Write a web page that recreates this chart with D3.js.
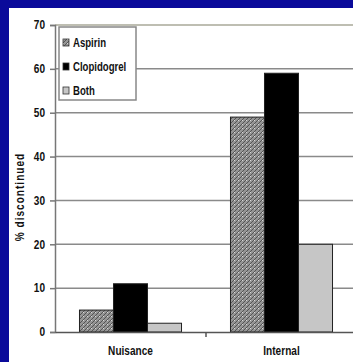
<!DOCTYPE html>
<html>
<head>
<meta charset="utf-8">
<script src="https://cdn.jsdelivr.net/npm/d3@7"></script>
<style>
  html, body { margin: 0; padding: 0; background: #0a0a9a; }
  svg { display: block; }
  text { font-family: "Liberation Sans", Arial, sans-serif; font-weight: bold; fill: #111; }
</style>
</head>
<body>
<script>
// Percentage of patients who discontinued therapy, by bleeding type
const categories = ["Nuisance", "Internal"];
const seriesNames = ["Aspirin", "Clopidogrel", "Both"];
const aspirin = [5, 49];
const clopidogrel = [11, 59];
const both = [2, 20];
const yTicks = [0, 10, 20, 30, 40, 50, 60, 70];
const yTitle = "% discontinued";

const W = 353, H = 362;
const NARROW = 0.84; // horizontal squeeze to get a narrow bold face
const svg = d3.select("body").append("svg").attr("width", W).attr("height", H);

// white panel on the blue slide background
svg.append("rect").attr("x", 9).attr("y", 8).attr("width", W - 9).attr("height", H - 8).attr("fill", "#fff");

const defs = svg.append("defs");
const pat = defs.append("pattern").attr("id", "hatch").attr("patternUnits", "userSpaceOnUse")
  .attr("width", 4).attr("height", 4);
pat.append("rect").attr("width", 4).attr("height", 4).attr("fill", "#959595");
pat.append("path").attr("d", "M0,4 L4,0 M-1,1 L1,-1 M3,5 L5,3").attr("stroke", "#555").attr("stroke-width", 1);
pat.append("rect").attr("x", 0).attr("y", 0).attr("width", 1).attr("height", 1).attr("fill", "#d8d8d8");

const left = 55, plotRight = 357;
const y = d3.scaleLinear().domain([0, 70]).range([332, 25]);
const x0 = d3.scaleBand().domain(categories).range([left, plotRight]).paddingInner(0).paddingOuter(0);
const x1 = d3.scaleBand().domain(seriesNames).range([0, x0.bandwidth()]).paddingInner(0).paddingOuter(0.72);

const fills = { Aspirin: "url(#hatch)", Clopidogrel: "#000", Both: "#c6c6c6" };
const valuesBySeries = { Aspirin: aspirin, Clopidogrel: clopidogrel, Both: both };

// gridlines
svg.append("g").selectAll("line").data(yTicks.filter(d => d > 0)).join("line")
  .attr("x1", left).attr("x2", W)
  .attr("y1", d => y(d)).attr("y2", d => y(d))
  .attr("stroke", d => d === 70 ? "#a8a898" : "#8a8a8a").attr("stroke-width", 1.5);

// y axis
const yAxis = d3.axisLeft(y).tickValues(yTicks).tickSize(5).tickPadding(5).tickFormat(d3.format("d"));
const gy = svg.append("g").attr("transform", `translate(${left},0)`).call(yAxis);
gy.select(".domain").attr("stroke", "#777").attr("stroke-width", 1.5);
gy.selectAll(".tick line").attr("stroke", "#777").attr("stroke-width", 1.5);
gy.selectAll(".tick text").attr("font-size", 12).attr("fill", "#111")
  .attr("font-family", "'Liberation Sans', Arial, sans-serif").attr("font-weight", "bold")
  .attr("x", -10 / NARROW).attr("transform", `scale(${NARROW},1)`);

// bars
const groups = svg.append("g").selectAll("g").data(categories).join("g")
  .attr("transform", d => `translate(${x0(d)},0)`);
groups.selectAll("rect").data((c, i) => seriesNames.map(s => ({ s, v: valuesBySeries[s][i] }))).join("rect")
  .attr("x", d => x1(d.s)).attr("width", x1.bandwidth())
  .attr("y", d => y(d.v)).attr("height", d => y(0) - y(d.v))
  .attr("fill", d => fills[d.s]).attr("stroke", "#222").attr("stroke-width", 1);

// x axis
const xAxis = d3.axisBottom(x0).tickSize(0).tickPadding(14);
const gx = svg.append("g").attr("transform", `translate(0,${y(0)})`).call(xAxis);
gx.select(".domain").attr("stroke", "#555").attr("stroke-width", 1.5);
gx.selectAll(".tick text").attr("font-size", 12).attr("fill", "#111")
  .attr("font-family", "'Liberation Sans', Arial, sans-serif").attr("font-weight", "bold")
  .attr("transform", `scale(${NARROW},1)`);
// category boundary tick
svg.append("g").selectAll("line").data(categories.slice(1)).join("line")
  .attr("x1", d => x0(d)).attr("x2", d => x0(d))
  .attr("y1", y(0)).attr("y2", y(0) + 5).attr("stroke", "#555").attr("stroke-width", 1.5);

// y axis title
svg.append("text").attr("transform", `translate(24,197) rotate(-90) scale(${NARROW},1)`)
  .attr("text-anchor", "middle").attr("font-size", 12).attr("letter-spacing", 1.2).text(yTitle);

// legend
const lg = svg.append("g").attr("transform", "translate(59,27)");
lg.append("rect").attr("width", 77).attr("height", 73).attr("fill", "#fff")
  .attr("stroke", "#888").attr("stroke-width", 1.5);
const items = lg.selectAll("g").data(seriesNames).join("g")
  .attr("transform", (d, i) => `translate(4,${20 + i * 24})`);
items.append("rect").attr("x", 0).attr("y", -8).attr("width", 6).attr("height", 7)
  .attr("fill", d => fills[d]).attr("stroke", "#333").attr("stroke-width", 0.8);
items.append("text").attr("x", 10 / 0.8).attr("y", 0).attr("font-size", 12)
  .attr("transform", "scale(0.8,1)").text(d => d);
</script>
</body>
</html>
